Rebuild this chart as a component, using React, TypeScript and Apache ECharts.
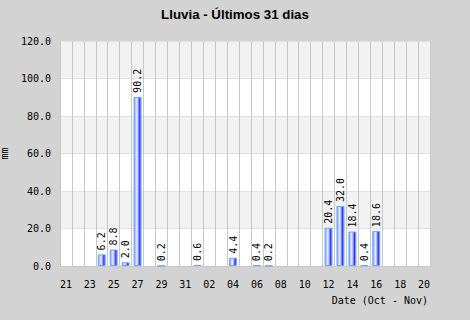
import React, { useEffect, useRef } from "react";
import * as echarts from "echarts";

const categories = [
  "21", "22", "23", "24", "25", "26", "27", "28", "29", "30", "31",
  "01", "02", "03", "04", "05", "06", "07", "08", "09", "10",
  "11", "12", "13", "14", "15", "16", "17", "18", "19", "20",
];
const rainfall = [
  0, 0, 0, 6.2, 8.8, 2.0, 90.2, 0, 0.2, 0, 0,
  0.6, 0, 0, 4.4, 0, 0.4, 0.2, 0, 0, 0,
  0, 20.4, 32.0, 18.4, 0.4, 18.6, 0, 0, 0, 0,
];
const yTicks = { min: 0, max: 120, interval: 20 };
const titleText = "Lluvia - Últimos 31 dias";
const yName = "mm";
const xName = "Date (Oct - Nov)";

const MONO = "DejaVu Sans Mono";

export default function App() {
  const ref = useRef<HTMLDivElement>(null);
  useEffect(() => {
    if (!ref.current) return;
    const chart = echarts.init(ref.current, null, { renderer: "svg" });
    const barColor = new echarts.graphic.LinearGradient(0, 0, 1, 0, [
      { offset: 0, color: "#6aa2f6" },
      { offset: 0.2, color: "#b4c8fa" },
      { offset: 0.42, color: "#f2f0ff" },
      { offset: 0.62, color: "#8c8cff" },
      { offset: 0.8, color: "#3434ff" },
      { offset: 1, color: "#6aa2f6" },
    ]);
    chart.setOption({
      animation: false,
      backgroundColor: "#d3d3d3",
      title: {
        text: titleText,
        left: "center",
        top: 3,
        textStyle: {
          fontFamily: "Liberation Sans",
          fontSize: 13.3,
          fontWeight: "bold",
          color: "#000",
        },
      },
      grid: {
        left: 60,
        right: 40,
        top: 41,
        bottom: 54,
        containLabel: false,
        outerBoundsMode: "none",
      },
      xAxis: {
        type: "category",
        data: categories,
        boundaryGap: true,
        axisLine: { show: true, lineStyle: { color: "#c8c8c8" } },
        axisTick: { show: false },
        axisLabel: {
          interval: 1,
          margin: 13,
          color: "#000",
          fontFamily: MONO,
          fontSize: 10,
        },
        splitLine: {
          show: true,
          interval: 0,
          lineStyle: { color: "#c8c8c8", width: 1 },
        },
      },
      yAxis: {
        type: "value",
        min: yTicks.min,
        max: yTicks.max,
        interval: yTicks.interval,
        name: yName,
        nameLocation: "middle",
        nameGap: 42,
        nameTextStyle: { color: "#000", fontFamily: MONO, fontSize: 10 },
        axisLine: { show: false },
        axisTick: { show: false },
        axisLabel: {
          margin: 9,
          color: "#000",
          fontFamily: MONO,
          fontSize: 10,
          formatter: (v: number) => v.toFixed(1),
        },
        splitLine: { show: true, lineStyle: { color: "#e2e2e2" } },
        splitArea: { show: true, areaStyle: { color: ["#ffffff", "#f2f2f2"] } },
      },
      graphic: [
        {
          type: "text",
          right: 42,
          top: 295,
          style: {
            text: xName,
            fill: "#000",
            font: `10px "${MONO}"`,
          },
        },
      ],
      series: [
        {
          type: "bar",
          data: rainfall.map((v) => (v === 0 ? null : v)),
          barWidth: 8,
          itemStyle: { color: barColor, borderColor: "#6aa6f4", borderWidth: 1 },
          label: {
            show: true,
            position: "top",
            rotate: 90,
            align: "left",
            verticalAlign: "middle",
            distance: 4,
            color: "#000",
            fontFamily: MONO,
            fontSize: 10,
            formatter: (p: any) => (p.value ? Number(p.value).toFixed(1) : ""),
          },
        },
      ],
    });
    return () => chart.dispose();
  }, []);
  return (
    <div
      ref={ref}
      style={{ position: "fixed", left: 0, top: 0, width: 470, height: 320 }}
    />
  );
}
